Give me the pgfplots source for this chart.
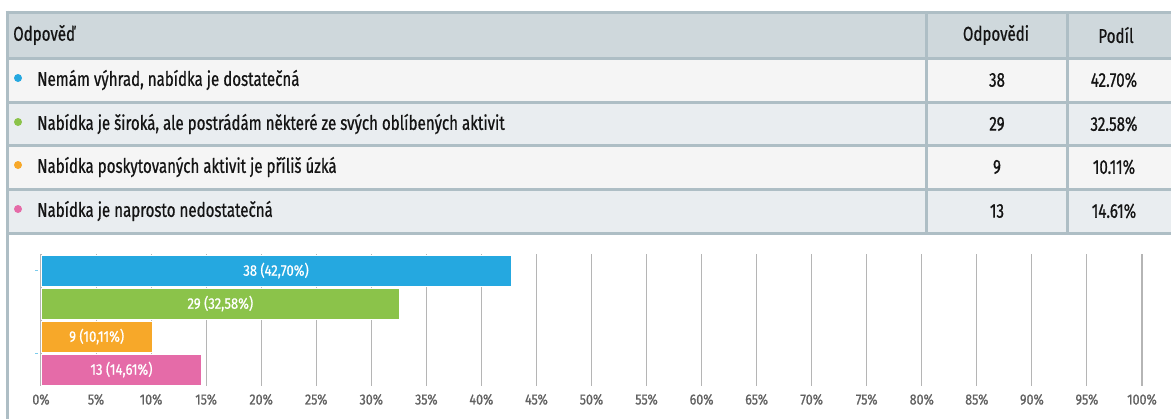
\documentclass[border=0pt]{standalone}
\usepackage{pgfplots}
\pgfplotsset{compat=1.18}
\usepackage{pgfplotstable}
\usepackage{fontspec}
\setmainfont{Fira Sans}[FakeStretch=0.755, FakeBold=0.7]
\newfontfamily\lblfont{Fira Sans}[FakeStretch=0.85, FakeBold=0.8]
\definecolor{headc}{HTML}{CFD8DC}
\definecolor{rowa}{HTML}{F5F5F5}
\definecolor{rowb}{HTML}{E9EDF0}
\definecolor{bordc}{HTML}{AEBEC5}
\definecolor{cblue}{HTML}{25A8E0}
\definecolor{cgreen}{HTML}{8BC34A}
\definecolor{corange}{HTML}{F7A829}
\definecolor{cpink}{HTML}{E56BA8}
\definecolor{txt}{HTML}{141414}
\definecolor{gridc}{HTML}{B5B5B5}
\pgfplotstableread[col sep=semicolon]{
cat;pct;lab
0;42.70;38 (42,70\%)
1;32.58;29 (32,58\%)
2;10.11;9 (10,11\%)
3;14.61;13 (14,61\%)
}\datatab
\begin{document}
\begin{tikzpicture}[x=0.75pt,y=-0.75pt]
\useasboundingbox (0,0) rectangle (1171,418);
% table backgrounds
\fill[headc] (7,12) rectangle (1172,58);
\fill[rowa] (7,58) rectangle (1172,102);
\fill[rowb] (7,102) rectangle (1172,145);
\fill[rowa] (7,145) rectangle (1172,189);
\fill[rowb] (7,189) rectangle (1172,233);
% borders
\begin{scope}[draw=bordc, line width=2.25pt]
\draw (5.5,12) -- (1172,12);
\foreach \yy in {58,102,145,189,233} \draw (7,\yy) -- (1172,\yy);
\draw (7,10.5) -- (7,419);
\draw (926,12) -- (926,233);
\draw (1067,12) -- (1067,233);
\end{scope}
% header text
\begin{scope}[font=\fontsize{15pt}{18pt}\selectfont, text=txt]
\node[anchor=west, inner sep=0pt] at (13,35) {Odpověď};
\node[inner sep=0pt] at (996,35) {Odpovědi};
\node[inner sep=0pt] at (1116,35) {Podíl};
\node[anchor=west, inner sep=0pt] at (37,80) {Nemám výhrad, nabídka je dostatečná};
\node[anchor=west, inner sep=0pt] at (37,124) {Nabídka je široká, ale postrádám některé ze svých oblíbených aktivit};
\node[anchor=west, inner sep=0pt] at (37,167) {Nabídka poskytovaných aktivit je příliš úzká};
\node[anchor=west, inner sep=0pt] at (37,211) {Nabídka je naprosto nedostatečná};
\node[inner sep=0pt] at (997,80) {38};
\node[inner sep=0pt] at (997,124) {29};
\node[inner sep=0pt] at (997,167) {9};
\node[inner sep=0pt] at (997,211) {13};
\node[inner sep=0pt] at (1114,80) {42.70\%};
\node[inner sep=0pt] at (1114,124) {32.58\%};
\node[inner sep=0pt] at (1114,167) {10.11\%};
\node[inner sep=0pt] at (1114,211) {14.61\%};
\end{scope}
\fill[cblue] (18,78) circle[radius=4];
\fill[cgreen] (18,122) circle[radius=4];
\fill[corange] (18,165) circle[radius=4];
\fill[cpink] (18,209) circle[radius=4];
\coordinate (axorig) at (41,386);
% chart
\begin{axis}[
  at={(axorig)}, anchor=south west,
  scale only axis, width=825.75pt, height=99pt,
  xmin=0, xmax=100, ymin=-0.5, ymax=3.5, y dir=reverse,
  xtick={0,5,...,100}, ytick={0,2.5}, yticklabels={}, ytick pos=left,
  xticklabel={\pgfmathprintnumber{\tick}\%},
  /pgf/number format/assume math mode=true,
  xticklabel style={font=\lblfont\fontsize{11pt}{12pt}\selectfont, text=black!62, yshift=0pt},
  xmajorgrids, major grid style={gridc, line width=0.8pt},
  axis line style={draw=none},
  xtick style={draw=none}, ytick style={draw=cblue!60, line width=0.6pt, xshift=-2pt},
  tick align=outside, major tick length=2.5pt,
  clip=false,
]
\addplot[xbar, bar shift=0pt, bar width=23.25pt, fill=cblue, draw=white, line width=0.6pt] coordinates {(42.70,0)};
\addplot[xbar, bar shift=0pt, bar width=23.25pt, fill=cgreen, draw=white, line width=0.6pt] coordinates {(32.58,1)};
\addplot[xbar, bar shift=0pt, bar width=23.25pt, fill=corange, draw=white, line width=0.6pt] coordinates {(10.11,2)};
\addplot[xbar, bar shift=0pt, bar width=23.25pt, fill=cpink, draw=white, line width=0.6pt] coordinates {(14.61,3)};
\addplot[only marks, mark=none, nodes near coords, point meta=explicit symbolic,
  nodes near coords style={anchor=center, text=white, font=\lblfont\fontsize{11.5pt}{12pt}\selectfont}]
  table[x expr=\thisrow{pct}/2, y=cat, meta=lab] {\datatab};
\end{axis}
\end{tikzpicture}
\end{document}
